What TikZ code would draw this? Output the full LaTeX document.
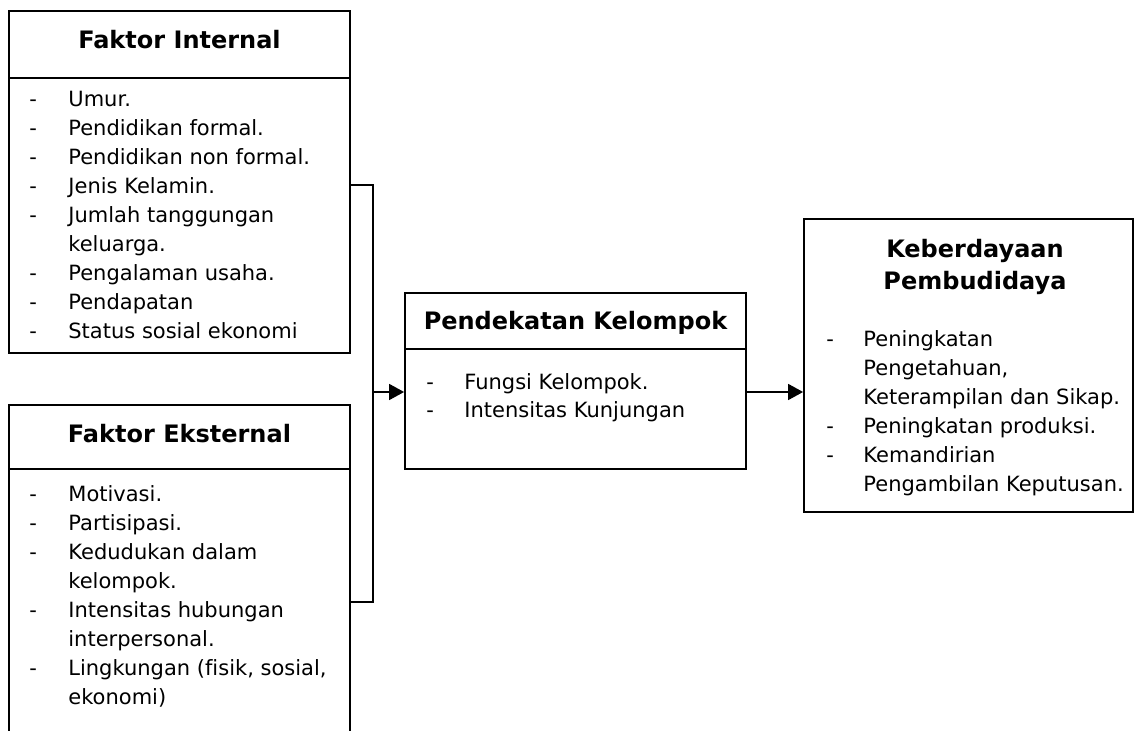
\documentclass[tikz,border=0pt]{standalone}
\usepackage{fontspec}
\setmainfont{DejaVu Sans}[Ligatures=NoCommon]
\usetikzlibrary{arrows.meta,fit,positioning}

\begin{document}
\begin{tikzpicture}[x=0.5pt, y=-0.5pt,
        >={Triangle[length=7.5pt,width=8pt]},
        box/.style   = {draw, line width=0.9pt, inner sep=0pt},
        rule/.style  = {line width=0.9pt},
        link/.style  = {line width=0.8pt},
        head/.style  = {font=\fontsize{12}{16}\selectfont\bfseries, inner sep=0pt, anchor=base},
        items/.style = {font=\fontsize{10.5}{14.5}\selectfont, inner sep=0pt, anchor=base west},
                            ]
    \useasboundingbox (0,0) rectangle (1141,731);
    % kotak
    \node[box, fit={(9,11) (350,353)}] (int) {};
    \node[box, fit={(9,405) (350,760)}] (eks) {}; % terpotong di bawah
    \node[box, fit={(405,293) (746,469)}] (pen) {};
    \node[box, fit={(804,219) (1133,512)}] (keb) {};
    %
    \draw[rule] (int.west |- 0,78) -- (int.east |- 0,78);
    \draw[rule] (eks.west |- 0,469) -- (eks.east |- 0,469);
    \draw[rule] (pen.west |- 0,349) -- (pen.east |- 0,349);
    % judul
    \node[head] (intT) at (179.5,49) {Faktor Internal};
    \node[head] (eksT) at (179.5,443) {Faktor Eksternal};
    \node[head] (penT) at (575.5,330) {Pendekatan Kelompok};
    \node[head, anchor=center, align=center] (kebT) at (975,267) {Keberdayaan\\Pembudidaya};
    % isi
    \node[items] (intL) at (29,107) {\begin{tabular}[t]{@{}p{19.5pt}@{}l@{}}
        - & Umur.\\
        - & Pendidikan formal.\\
        - & Pendidikan non formal.\\
        - & Jenis Kelamin.\\
        - & Jumlah tanggungan\\
          & keluarga.\\
        - & Pengalaman usaha.\\
        - & Pendapatan\\
        - & Status sosial ekonomi
        \end{tabular}};
    \node[items] (eksL) at (29,502) {\begin{tabular}[t]{@{}p{19.5pt}@{}l@{}}
        - & Motivasi.\\
        - & Partisipasi.\\
        - & Kedudukan dalam\\
          & kelompok.\\
        - & Intensitas hubungan\\
          & interpersonal.\\
        - & Lingkungan (fisik, sosial,\\
          & ekonomi)
        \end{tabular}};
    \node[items, font=\fontsize{10.5}{14}\selectfont] (penL) at (426,390) {\begin{tabular}[t]{@{}p{19pt}@{}l@{}}
        - & Fungsi Kelompok.\\
        - & Intensitas Kunjungan
        \end{tabular}};
    \node[items] (kebL) at (826,347) {\begin{tabular}[t]{@{}p{18.5pt}@{}l@{}}
        - & Peningkatan\\
          & Pengetahuan,\\
          & Keterampilan dan Sikap.\\
        - & Peningkatan produksi.\\
        - & Kemandirian\\
          & Pengambilan Keputusan.
        \end{tabular}};
    % penghubung
    \coordinate (j1) at (373,185);
    \coordinate (j2) at (373,602);
    \coordinate (j3) at (373,392);
    \draw[link] (int.east |- j1) -- (j1) -- (j2) -- (eks.east |- j2);
    \draw[link, ->] (j3) -- (j3 -| pen.west);
    \draw[link, ->] (pen.east |- j3) -- (keb.west |- j3);
\end{tikzpicture}
\end{document}
